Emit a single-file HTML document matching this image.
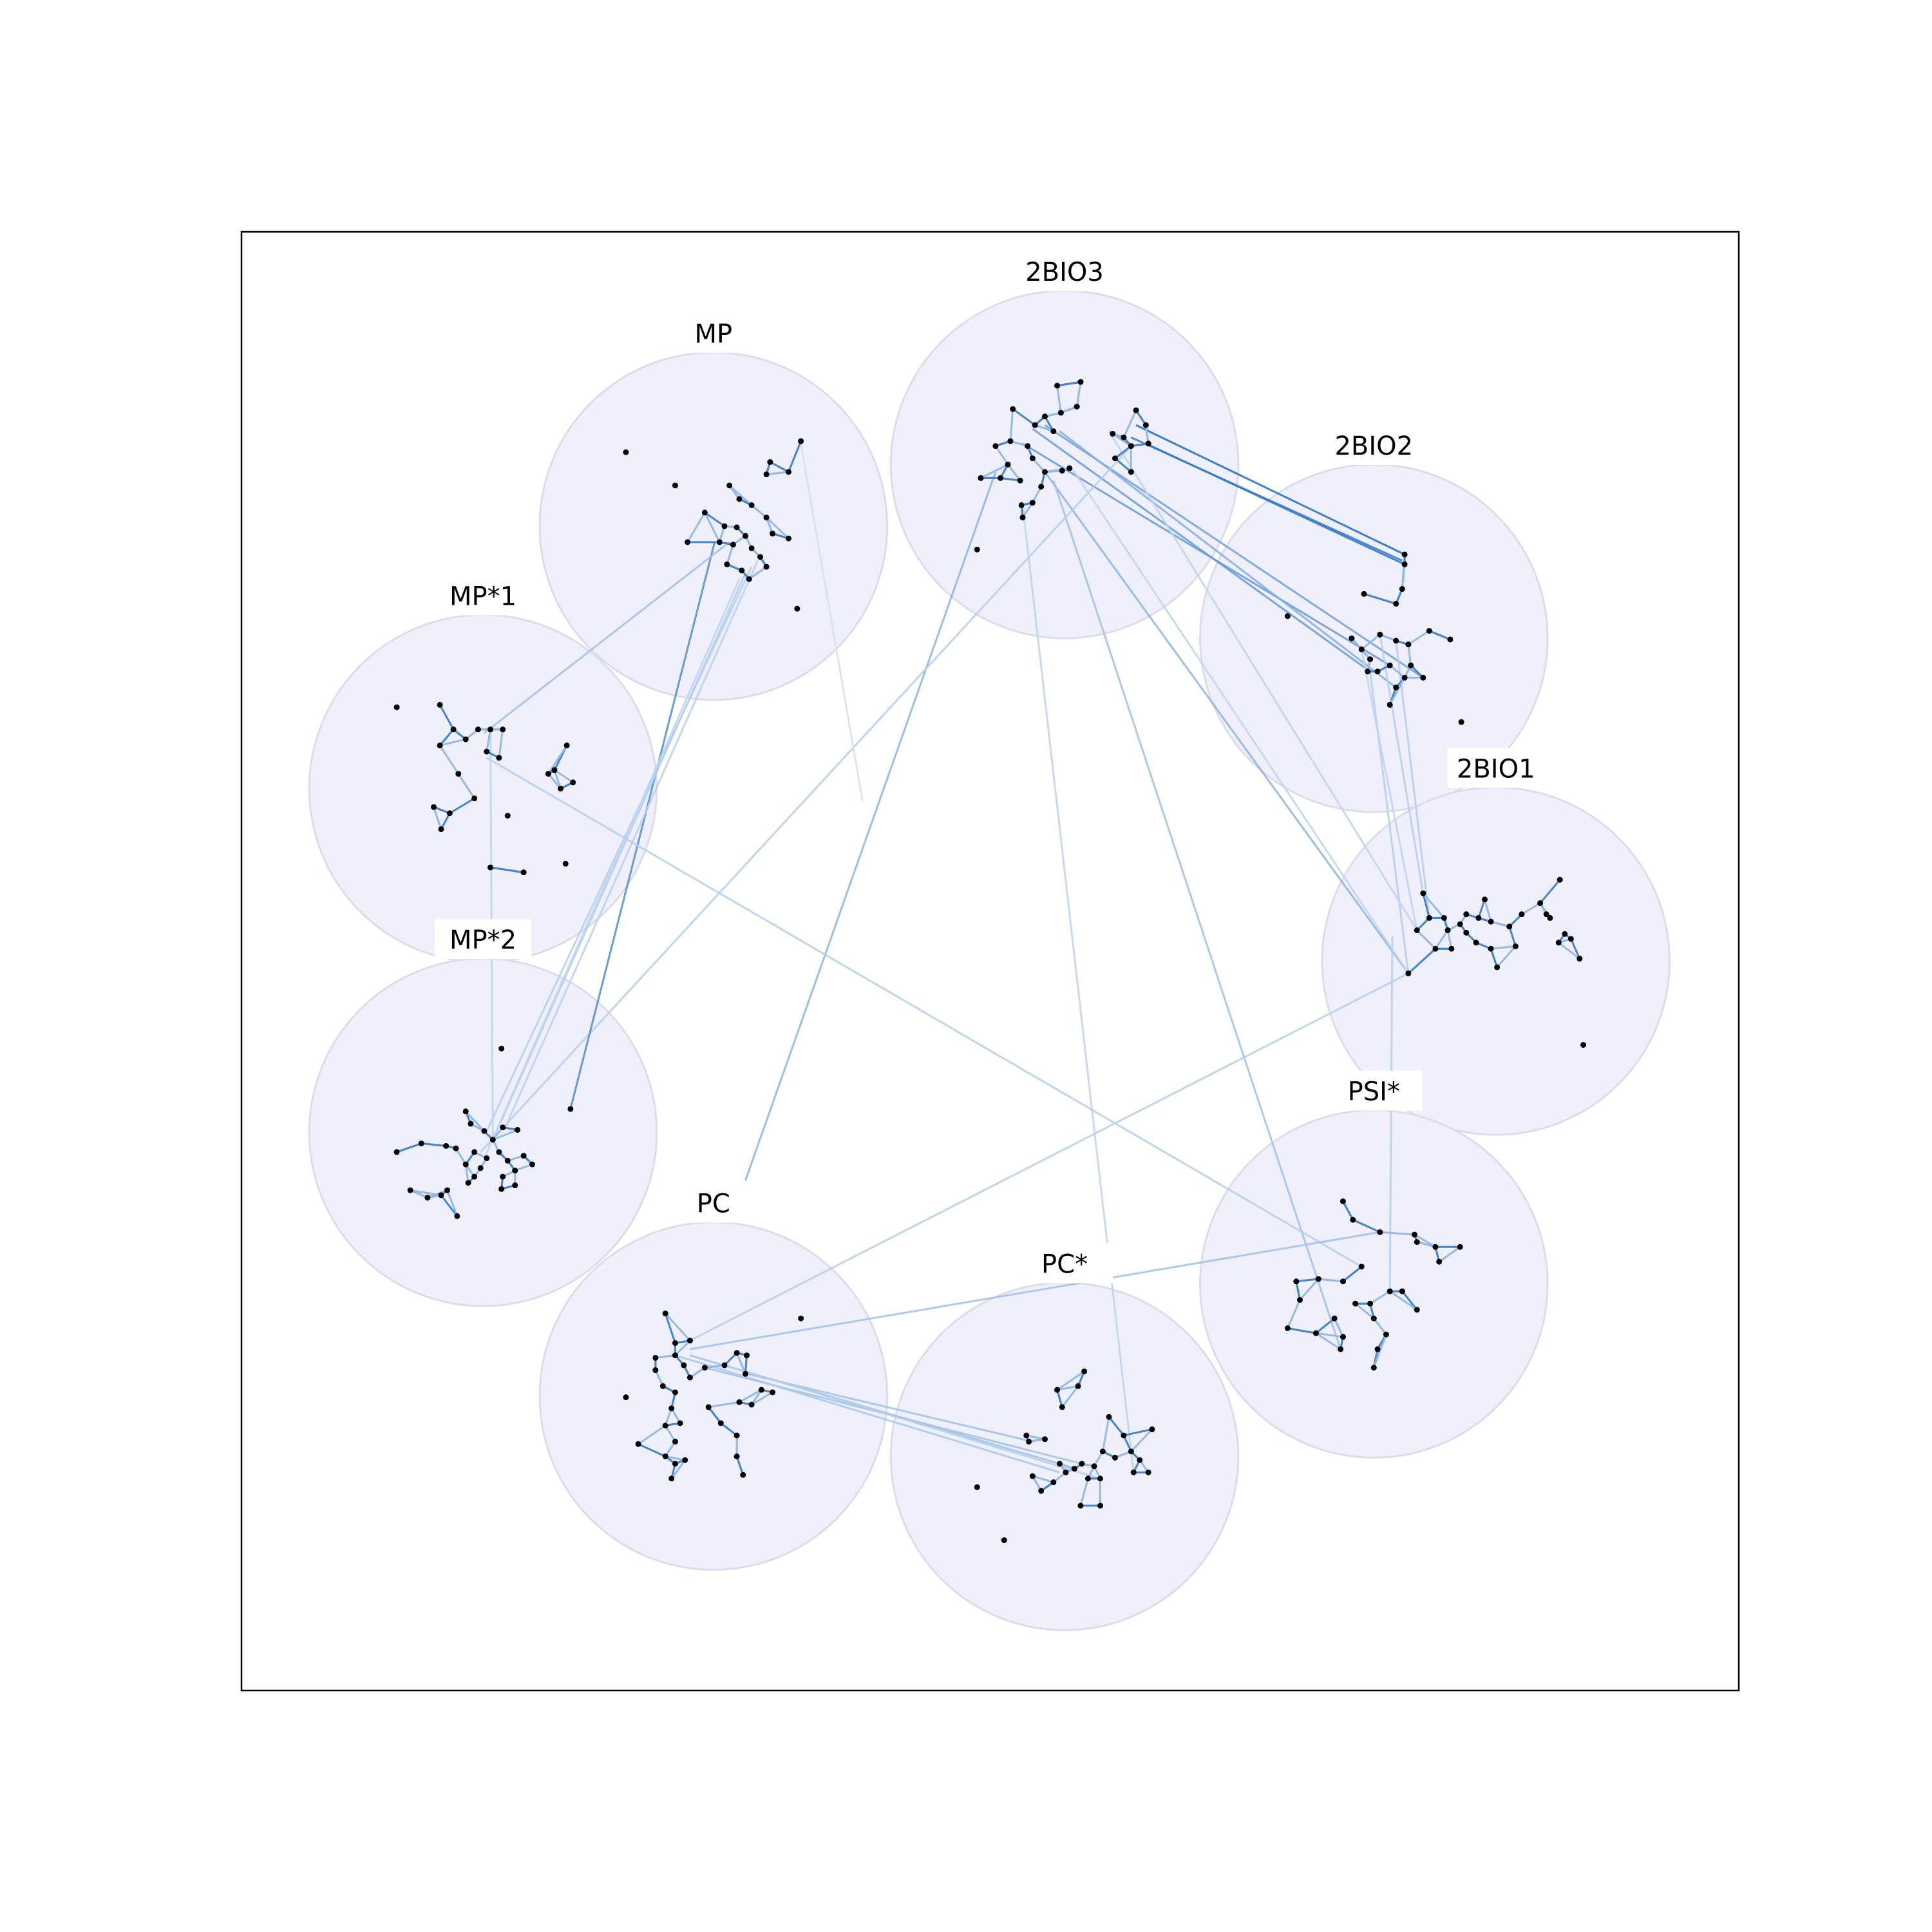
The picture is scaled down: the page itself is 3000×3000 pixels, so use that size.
<!DOCTYPE html>
<html><head><meta charset="utf-8"><style>
html,body{margin:0;padding:0;background:#fff}
svg{display:block}
text{font-family:"DejaVu Sans","Liberation Sans",sans-serif}
</style></head><body>
<svg id="chart" width="3000" height="3000" viewBox="0 0 3000 3000" xmlns="http://www.w3.org/2000/svg">
<rect x="0" y="0" width="3000" height="3000" fill="#fff"/>
<g id="gCircles"></g><g id="gInter"></g><g id="gIntra"></g><g id="gNodes"></g><g id="gLabels"></g>
<rect x="375" y="360" width="2325" height="2265" fill="none" stroke="#000" stroke-width="2.5"/>
</svg>
<script>
const S = 3000/1568;
const groupNames = ["2BIO3","MP","2BIO2","MP*1","2BIO1","MP*2","PSI*","PC","PC*"];
const groupCenters = [[864,377],[579,427],[1115,518],[392,640],[1214,780],[392,919],[1115,1042],[579,1133],[864,1182]];
const groupRadius = 141;
const groupNodes = [
 [[858,313],[877,310],[874,330],[861,335],[822,332],[848,338],[808,362],[820,358],[834,362],[838,372],[818,377],[812,388],[796,388],[828,390],[848,383],[862,382],[829,410],[838,408],[845,395],[903,352],[922,333],[930,345],[912,355],[918,362],[905,372],[918,383],[932,360],[793,446],[830,420],[855,350],[868,380],[840,345]],
 [[508,367],[548,394],[650,358],[625,375],[622,385],[640,383],[592,394],[600,405],[610,410],[572,416],[588,427],[598,428],[605,435],[622,420],[627,433],[640,437],[584,440],[558,440],[595,442],[610,445],[617,452],[622,460],[602,463],[608,470],[590,458],[647,494]],
 [[1140,450],[1140,458],[1138,478],[1133,490],[1107,482],[1045,500],[1097,518],[1105,527],[1120,515],[1133,520],[1160,512],[1177,519],[1143,523],[1112,535],[1118,545],[1128,540],[1145,540],[1155,550],[1140,550],[1133,558],[1128,572],[1186,586],[1110,545]],
 [[322,574],[357,572],[368,592],[378,600],[388,592],[398,592],[408,592],[357,605],[395,610],[405,615],[460,605],[445,628],[450,625],[465,635],[455,640],[372,628],[385,648],[352,655],[365,660],[358,673],[412,662],[398,704],[425,708],[459,701]],
 [[1266,714],[1250,733],[1255,742],[1205,730],[1190,742],[1200,745],[1185,750],[1172,745],[1155,725],[1160,745],[1150,755],[1175,755],[1190,757],[1210,748],[1225,752],[1235,742],[1258,745],[1270,758],[1275,762],[1265,765],[1165,770],[1178,770],[1198,765],[1210,770],[1215,785],[1230,768],[1282,778],[1143,790],[1285,848]],
 [[407,851],[463,900],[378,902],[382,912],[393,918],[400,925],[408,915],[420,917],[370,932],[385,935],[395,940],[405,935],[412,942],[425,938],[432,945],[362,930],[342,928],[322,935],[378,945],[390,948],[418,950],[385,955],[408,955],[380,960],[363,966],[333,966],[347,972],[358,970],[407,965],[418,962],[371,987]],
 [[1090,975],[1098,990],[1120,1000],[1148,1002],[1150,1008],[1165,1012],[1185,1012],[1168,1024],[1105,1028],[1052,1040],[1070,1038],[1090,1040],[1128,1048],[1138,1048],[1100,1058],[1112,1058],[1055,1055],[1150,1063],[1115,1070],[1083,1070],[1068,1082],[1045,1078],[1125,1083],[1090,1085],[1118,1095],[1088,1095],[1115,1110]],
 [[650,1070],[540,1066],[548,1090],[560,1088],[532,1102],[548,1100],[555,1108],[572,1110],[598,1098],[606,1100],[588,1108],[605,1115],[618,1128],[627,1130],[532,1112],[538,1125],[560,1118],[508,1134],[548,1130],[545,1143],[575,1142],[600,1138],[610,1140],[540,1157],[552,1155],[548,1170],[585,1155],[598,1165],[518,1172],[556,1185],[598,1182],[548,1188],[545,1200],[603,1197],[540,1182]],
 [[880,1113],[875,1125],[858,1128],[862,1142],[935,1160],[912,1165],[900,1150],[833,1165],[848,1168],[835,1170],[895,1178],[918,1178],[905,1183],[925,1185],[888,1190],[878,1188],[860,1188],[865,1195],[872,1192],[920,1195],[932,1195],[883,1200],[893,1200],[838,1198],[855,1203],[845,1210],[893,1222],[877,1222],[793,1207],[815,1250]]
];
// inter-cluster edges: [x1,y1,x2,y2,strength 0..1]
const interEdges = [
 [922,345,1140,450,0.95],[930,360,1140,458,0.9],[918,355,1138,455,0.85],
 [838,348,1112,545,0.6],[830,360,1128,540,0.6],[848,345,1155,550,0.55],[860,350,1133,558,0.45],
 [848,383,1143,790,0.4],[808,383,605,958,0.4],[855,390,1088,1095,0.3],[830,410,920,1195,0.15],
 [920,360,390,935,0.2],[580,440,463,900,0.7],[592,440,393,595,0.3],[610,460,395,918,0.2],
 [605,465,400,925,0.2],[615,455,410,915,0.18],[600,470,393,940,0.15],[395,615,1105,1028,0.2],
 [560,1088,1143,790,0.2],[560,1095,1120,1000,0.3],[560,1100,860,1188,0.3],[572,1110,878,1188,0.3],
 [548,1100,860,1195,0.25],[606,1115,838,1170,0.3],[588,1108,893,1200,0.2],[1112,545,1143,790,0.2],
 [1120,515,1155,725,0.2],[1133,520,1160,745,0.2],[1105,527,1150,755,0.15],[1130,760,1128,1048,0.2],
 [900,350,1150,755,0.15],[870,380,1143,790,0.15],[650,360,700,650,0.05],[398,592,400,925,0.15]
];
function X(v){return v*S}
const ns="http://www.w3.org/2000/svg";
function mk(tag,attrs,parent){const e=document.createElementNS(ns,tag);for(const k in attrs)e.setAttribute(k,attrs[k]);parent.appendChild(e);return e;}
function col(t){const a=[220,232,248],b=[20,100,190];return `rgb(${a.map((v,i)=>Math.round(v+(b[i]-v)*t)).join(',')})`;}
const gC=document.getElementById('gCircles'),gI=document.getElementById('gInter'),gA=document.getElementById('gIntra'),gN=document.getElementById('gNodes'),gL=document.getElementById('gLabels');
groupCenters.forEach((c,i)=>{
 const ci=mk('circle',{cx:X(c[0]),cy:X(c[1]),r:X(groupRadius),fill:'#f0f0fc',stroke:'#dcdcea','stroke-width':3},gC);
 
 
 const ty=X(c[1]-groupRadius-8);
 const bg=mk('rect',{x:X(c[0])-75,y:ty-46,width:150,height:62,fill:'#fff'},gL);
 
 
 const t=mk('text',{x:X(c[0]),y:ty,'text-anchor':'middle','font-size':40,fill:'#000'},gL);
 t.textContent=groupNames[i];
 
 
});
interEdges.forEach(e=>{
 const l=mk('line',{x1:X(e[0]),y1:X(e[1]),x2:X(e[2]),y2:X(e[3]),stroke:col(e[4]),'stroke-width':3,'stroke-opacity':0.85},gI);
 
 
});
groupNodes.forEach(nodes=>{
 nodes.forEach((p,i)=>{
  const d=nodes.map((q,j)=>[j,Math.hypot(q[0]-p[0],q[1]-p[1])]).filter(z=>z[0]!==i).sort((a,b)=>a[1]-b[1]);
  d.slice(0,2).forEach((z,k)=>{
   if(z[1]>30) return;
   const q=nodes[z[0]];
   const l=mk('line',{x1:X(p[0]),y1:X(p[1]),x2:X(q[0]),y2:X(q[1]),stroke:col(k===0?0.75:0.35),'stroke-width':3},gA);
   
   
  });
 });
 nodes.forEach(p=>{
  const n=mk('circle',{cx:X(p[0]),cy:X(p[1]),r:4.5,fill:'#000'},gN);
  
  
 });
});
</script>
</body></html>
